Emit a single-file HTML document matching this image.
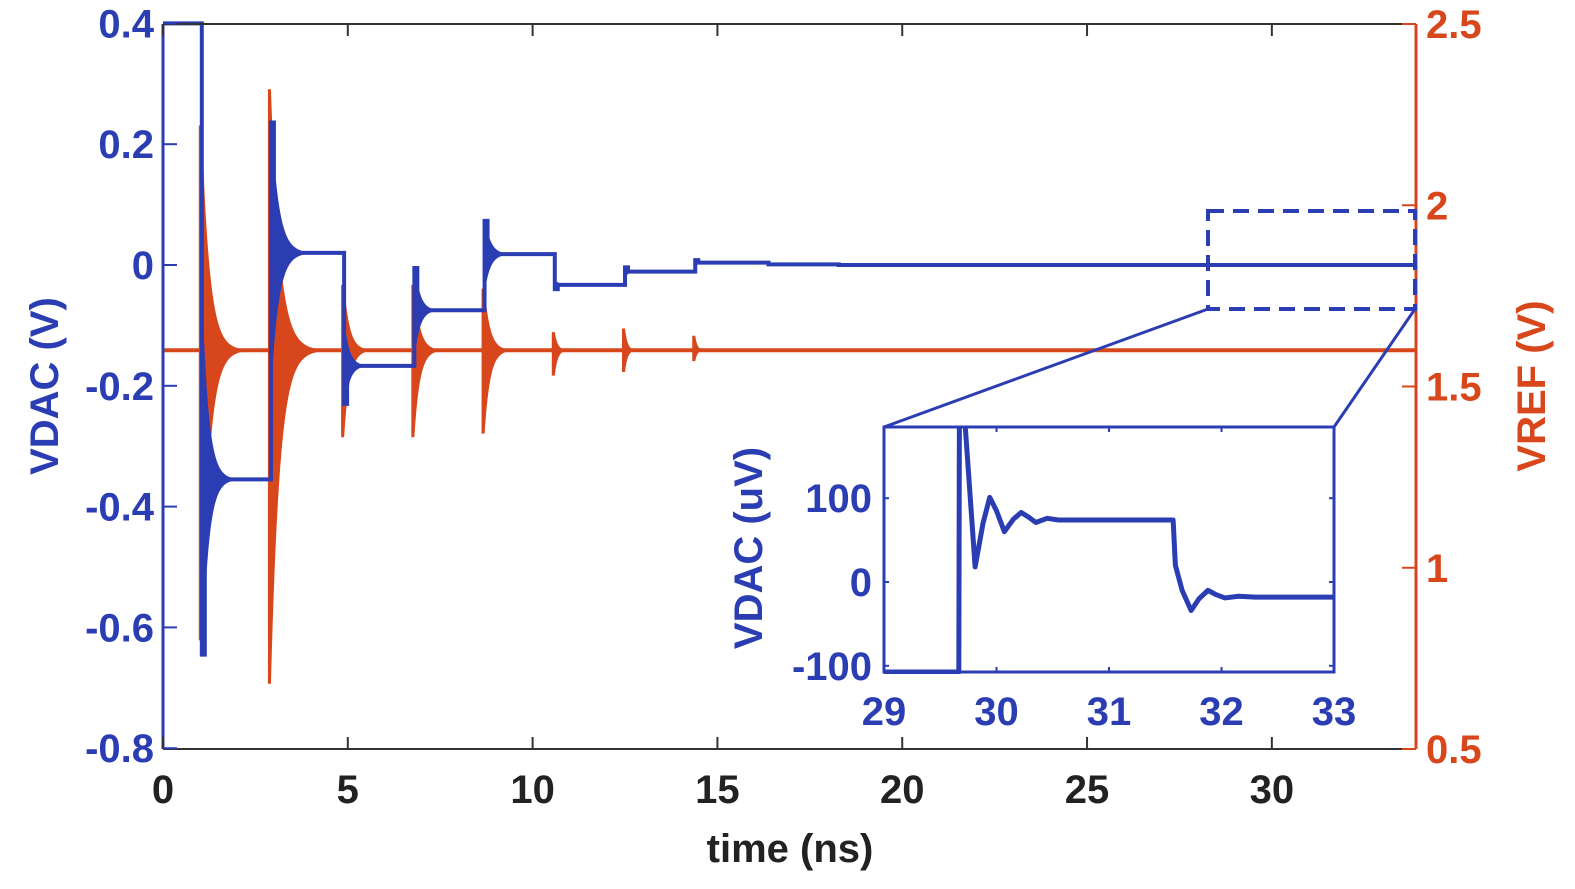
<!DOCTYPE html>
<html><head><meta charset="utf-8"><style>
body{margin:0;background:#fff}
svg{display:block}
text{font-family:"Liberation Sans",Arial,sans-serif;font-weight:bold}
</style></head><body>
<svg id="chart" width="1575" height="889" viewBox="0 0 1575 889" xmlns="http://www.w3.org/2000/svg">
<g id="plot"></g>
<g id="axes"></g>
<g id="inset"></g>
</svg>
<script>
// ---- main chart data ----
const xTicks = [0,5,10,15,20,25,30];
const yLeftTicks = [0.4,0.2,0,-0.2,-0.4,-0.6,-0.8];
const yLeftLabels = ["0.4","0.2","0","-0.2","-0.4","-0.6","-0.8"];
const yRightTicks = [2.5,2,1.5,1,0.5];
const yRightLabels = ["2.5","2","1.5","1","0.5"];
const vdacInitial = 0.4;
const vdacEventTimes = [1.05,2.92,4.9,6.8,8.7,10.6,12.5,14.4,16.3,18.2];
const vdacPeaks =      [-0.645,0.236,-0.23,-0.005,0.073,-0.04,-0.004,0.008,0.004,0.001];
const vdacLevels =     [-0.355,0.02,-0.167,-0.075,0.018,-0.033,-0.011,0.004,0.001,0.0];
const vdacTaus =       [0.17,0.2,0.14,0.14,0.15,0.1,0.08,0.07,0.07,0.07];
const vrefBase = 1.6;
const vrefEventTimes = [1.05,2.92,4.9,6.8,8.7,10.6,12.5,14.4];
const vrefUpper =      [2.22,2.32,1.78,1.78,1.77,1.65,1.66,1.64];
const vrefLower =      [0.80,0.68,1.36,1.36,1.37,1.53,1.54,1.57];
const vrefTaus =       [0.21,0.24,0.15,0.15,0.15,0.08,0.07,0.06];
// ---- inset data ----
const insetXTicks = [29,30,31,32,33];
const insetYTicks = [100,0,-100];
const insetT = [29,29.665,29.67,29.72,29.81,29.88,29.94,30.0,30.07,30.15,30.22,30.29,30.35,30.45,30.55,31.57,31.59,31.65,31.73,31.8,31.88,31.95,32.03,32.15,32.3,33];
const insetV = [-108,-108,190,190,18,70,101,85,60,75,83,77,71,76,74,74,20,-10,-34,-20,-10,-15,-19,-17,-18,-18];

const BLUE="#2b3db3", ORANGE="#d8461c", NS="http://www.w3.org/2000/svg";
const X0=163,X1=1416,XMAX=33.9;
const sx=t=>X0+(X1-X0)*t/XMAX;
const syL=v=>265-v*604;
const syR=v=>749-(v-0.5)*362.5;
function el(tag,attrs,parent){const e=document.createElementNS(NS,tag);for(const k in attrs)e.setAttribute(k,attrs[k]);parent.appendChild(e);return e;}
const plot=document.getElementById('plot'),axes=document.getElementById('axes'),inset=document.getElementById('inset');

// VREF
let base=el('line',{x1:sx(0),x2:sx(XMAX),y1:syR(vrefBase),y2:syR(vrefBase),stroke:ORANGE,'stroke-width':4},plot);


vrefEventTimes.forEach((t0,i)=>{
  let up=[],lo=[];
  for(let k=0;k<=60;k++){const t=t0+k*vrefTaus[i]*6/60;const e=Math.exp(-(t-t0)/vrefTaus[i]);
    up.push(sx(t)+','+syR(vrefBase+(vrefUpper[i]-vrefBase)*e));lo.unshift(sx(t)+','+syR(vrefBase-(vrefBase-vrefLower[i])*e));}
  const p=el('polygon',{points:(sx(t0)-3)+','+syR(vrefUpper[i])+' '+(sx(t0)+4)+','+syR(vrefUpper[i])+' '+up.join(' ')+' '+lo.join(' ')+' '+(sx(t0)+4)+','+syR(vrefLower[i])+' '+(sx(t0)-3)+','+syR(vrefLower[i]),fill:ORANGE},plot);
  
  
});
// VDAC
let d='M'+sx(0)+','+syL(vdacInitial);
let prev=vdacInitial;
vdacEventTimes.forEach((t0,i)=>{
  const next=i+1<vdacEventTimes.length?vdacEventTimes[i+1]:XMAX;
  d+=' L'+sx(t0)+','+syL(prev)+' L'+sx(t0)+','+syL(vdacPeaks[i])+' L'+(sx(t0)+3)+','+syL(vdacPeaks[i])+' L'+(sx(t0)+3)+','+syL(vdacLevels[i])+' L'+sx(next)+','+syL(vdacLevels[i]);
  prev=vdacLevels[i];
  const amp=Math.abs(vdacPeaks[i]-vdacLevels[i])*0.85;
  let up=[],lo=[];
  for(let k=0;k<=60;k++){const t=t0+0.05+k*vdacTaus[i]*6/60;const e=Math.exp(-(t-t0-0.05)/vdacTaus[i]);
    up.push(sx(t)+','+syL(vdacLevels[i]+amp*e));lo.unshift(sx(t)+','+syL(vdacLevels[i]-amp*e));}
  const p=el('polygon',{points:up.join(' ')+' '+lo.join(' '),fill:BLUE},plot);
  
  
});
const vl=el('path',{d:d,fill:'none',stroke:BLUE,'stroke-width':4},plot);



// axes box
let a=el('line',{x1:X0,x2:X0,y1:24,y2:749,stroke:BLUE,'stroke-width':3},axes);

a=el('line',{x1:X1,x2:X1,y1:24,y2:749,stroke:ORANGE,'stroke-width':3},axes);

a=el('line',{x1:X0,x2:X1,y1:749,y2:749,stroke:'#333','stroke-width':2},axes);

a=el('line',{x1:X0,x2:X1,y1:24,y2:24,stroke:'#333','stroke-width':2},axes);

xTicks.forEach(v=>{
  el('line',{x1:sx(v),x2:sx(v),y1:749,y2:737,stroke:'#333','stroke-width':2},axes);
  el('line',{x1:sx(v),x2:sx(v),y1:24,y2:36,stroke:'#333','stroke-width':2},axes);
  const t=el('text',{x:sx(v),y:803,'text-anchor':'middle','font-size':40,fill:'#222'},axes);t.textContent=v;
  
});
yLeftTicks.forEach((v,i)=>{
  el('line',{x1:X0,x2:X0+14,y1:syL(v),y2:syL(v),stroke:BLUE,'stroke-width':2},axes);
  const t=el('text',{x:154,y:syL(v)+14,'text-anchor':'end','font-size':40,fill:BLUE},axes);t.textContent=yLeftLabels[i];
  
});
yRightTicks.forEach((v,i)=>{
  el('line',{x1:X1,x2:X1-14,y1:syR(v),y2:syR(v),stroke:ORANGE,'stroke-width':2},axes);
  const t=el('text',{x:1426,y:syR(v)+14,'text-anchor':'start','font-size':40,fill:ORANGE},axes);t.textContent=yRightLabels[i];
  
});
let t=el('text',{x:790,y:862,'text-anchor':'middle','font-size':40,fill:'#222'},axes);t.textContent='time (ns)';

t=el('text',{x:0,y:0,'text-anchor':'middle','font-size':40,fill:BLUE,transform:'translate(58,386) rotate(-90)'},axes);t.textContent='VDAC (V)';

t=el('text',{x:0,y:0,'text-anchor':'middle','font-size':40,fill:ORANGE,transform:'translate(1545,386) rotate(-90)'},axes);t.textContent='VREF (V)';


// zoom box & connectors
a=el('rect',{x:1208,y:211,width:207,height:98,fill:'none',stroke:BLUE,'stroke-width':4,'stroke-dasharray':'16,9'},inset);

a=el('line',{x1:1208,y1:309,x2:884,y2:427,stroke:BLUE,'stroke-width':3},inset);

a=el('line',{x1:1415,y1:309,x2:1334,y2:427,stroke:BLUE,'stroke-width':3},inset);


// inset
const IX0=884,IX1=1334,IY0=427,IY1=672;
const ix=v=>IX0+(v-29)*(IX1-IX0)/4;
const iy=v=>582-v*0.838;
a=el('rect',{x:IX0,y:IY0,width:IX1-IX0,height:IY1-IY0,fill:'#fff',stroke:BLUE,'stroke-width':3},inset);

el('clipPath',{id:'ic'},inset).appendChild(document.createElementNS(NS,'rect'));
const cr=inset.querySelector('#ic rect');cr.setAttribute('x',IX0);cr.setAttribute('y',IY0);cr.setAttribute('width',IX1-IX0);cr.setAttribute('height',IY1-IY0+2);
const ip=el('polyline',{points:insetT.map((v,i)=>ix(v)+','+Math.min(iy(insetV[i]),IY1)).join(' '),fill:'none',stroke:BLUE,'stroke-width':5,'stroke-linejoin':'round','clip-path':'url(#ic)'},inset);

insetXTicks.forEach(v=>{
  el('line',{x1:ix(v),x2:ix(v),y1:IY1,y2:IY1-5,stroke:BLUE,'stroke-width':2},inset);
  el('line',{x1:ix(v),x2:ix(v),y1:IY0,y2:IY0+5,stroke:BLUE,'stroke-width':2},inset);
  const tt=el('text',{x:ix(v),y:725,'text-anchor':'middle','font-size':40,fill:BLUE},inset);tt.textContent=v;
  
});
insetYTicks.forEach(v=>{
  el('line',{x1:IX0,x2:IX0+5,y1:iy(v),y2:iy(v),stroke:BLUE,'stroke-width':2},inset);
  el('line',{x1:IX1,x2:IX1-5,y1:iy(v),y2:iy(v),stroke:BLUE,'stroke-width':2},inset);
  const tt=el('text',{x:872,y:iy(v)+14,'text-anchor':'end','font-size':40,fill:BLUE},inset);tt.textContent=v;
  
});
t=el('text',{x:0,y:0,'text-anchor':'middle','font-size':40,fill:BLUE,transform:'translate(762,548) rotate(-90)'},inset);t.textContent='VDAC (uV)';

</script>
</body></html>
